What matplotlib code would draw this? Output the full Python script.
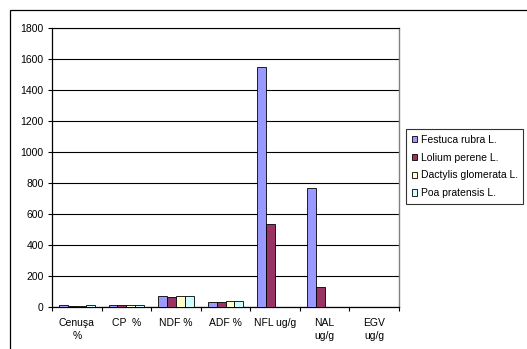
import numpy as np
import matplotlib.pyplot as plt
from matplotlib.patches import Rectangle

categories = ["Cenuşa\n%", "CP  %", "NDF %", "ADF %", "NFL ug/g", "NAL\nug/g", "EGV\nug/g"]
species = ["Festuca rubra L.", "Lolium perene L.", "Dactylis glomerata L.", "Poa pratensis L."]

festuca = [12, 18, 75, 33, 1550, 770, 0]
lolium = [11, 18, 68, 32, 540, 130, 0]
dactylis = [11, 17, 75, 38, 0, 0, 0]
poa = [12, 18, 75, 38, 0, 0, 0]

colors = ["#9999FF", "#993366", "#FFFFCC", "#CCFFFF"]

plt.rcParams["font.family"] = ["Liberation Sans", "DejaVu Sans"]
plt.rcParams["font.size"] = 7.5

fig = plt.figure(figsize=(5.27, 3.49), dpi=100)
ax = fig.add_axes([52 / 527, 1 - 307.3 / 349, (399 - 52) / 527, (307.3 - 28) / 349])

# outer chart frame
fig.patches.append(Rectangle((9.5 / 527, -0.1), 1.2, 1 - 10 / 349 + 0.1,
                             transform=fig.transFigure, fill=False,
                             edgecolor="black", lw=0.9))

x = np.arange(len(categories))
w = 0.18
series = [festuca, lolium, dactylis, poa]
for i, (vals, name, c) in enumerate(zip(series, species, colors)):
    ax.bar(x + (i - 1.5) * w, vals, w, color=c, edgecolor="black",
           linewidth=0.6, label=name, zorder=3)

ax.set_xlim(-0.5, len(categories) - 0.5)
ax.set_ylim(0, 1800)
ax.set_yticks(np.arange(0, 1801, 200))
ax.yaxis.grid(True, color="black", lw=0.8, zorder=0)

ax.set_xticks(x)
ax.set_xticklabels(categories, linespacing=1.4)
ax.set_xticks(np.arange(-0.5, len(categories)), minor=True)
ax.tick_params(axis="x", which="major", length=0, pad=7.5)
ax.tick_params(axis="x", which="minor", length=3, width=0.8, direction="out")
ax.tick_params(axis="y", length=3, width=0.8, pad=3)

ax.spines["left"].set_linewidth(0.9)
ax.spines["bottom"].set_linewidth(0.9)
ax.spines["top"].set_linewidth(0.8)
ax.spines["right"].set_color("#808080")
ax.spines["right"].set_linewidth(1.0)

leg = fig.legend(loc="upper left", bbox_to_anchor=(406 / 527, 1 - 129 / 349),
                 frameon=True, fancybox=False, edgecolor="black",
                 handlelength=0.55, handleheight=0.55, handletextpad=0.3,
                 labelspacing=0.75, borderpad=0.55, borderaxespad=0)
leg.get_frame().set_linewidth(0.8)

fig.savefig("out.png", dpi=100)
